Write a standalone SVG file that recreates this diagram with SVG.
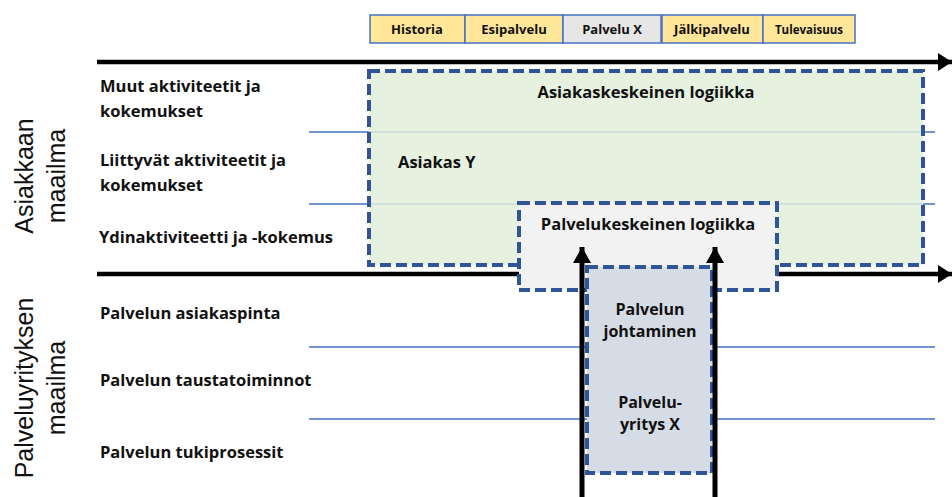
<svg xmlns="http://www.w3.org/2000/svg" width="952" height="497" viewBox="0 0 952 497">
  <defs>
    <marker id="headH" markerUnits="userSpaceOnUse" markerWidth="14" markerHeight="18" refX="14" refY="9" orient="auto">
      <path d="M0,0 L14,9 L0,18 Z" fill="#000"/>
    </marker>
    <marker id="headV" markerUnits="userSpaceOnUse" markerWidth="18" markerHeight="18" refX="16" refY="9" orient="auto">
      <path d="M0,0 L16,9 L0,18 Z" fill="#000"/>
    </marker>
  </defs>
  <style>
    text { font-family: "Open Sans", "Liberation Sans", Arial, sans-serif; fill: #111; }
    .lbl { font-size: 16.5px; font-weight: bold; }
    .inner { font-size: 16px; font-weight: bold; text-anchor: middle; }
    .phase { font-size: 13px; font-weight: bold; text-anchor: middle; }
    .world { font-family: "Liberation Sans", Arial, sans-serif; font-size: 25px; text-anchor: middle; }
    .mid { text-anchor: middle; }
    .phasebox { fill: #FFE699; stroke: #4472C4; stroke-width: 1.5; }
    .lane { stroke: #4472C4; stroke-width: 1.5; }
    .axis { stroke: #000; stroke-width: 4.5; }
    .dash { stroke: #2F5597; stroke-width: 4; stroke-dasharray: 11 5; }
    .flow { stroke: #000; stroke-width: 5; fill: none; }
  </style>

  <rect width="952" height="497" fill="#fff"/>

  <!-- time phases -->
  <g id="phases">
    <g id="historia"><rect class="phasebox" x="370" y="15" width="95" height="28"/><text class="phase" x="417" y="34">Historia</text></g>
    <g id="esipalvelu"><rect class="phasebox" x="465" y="15" width="98" height="28"/><text class="phase" x="514" y="34">Esipalvelu</text></g>
    <g id="palvelu-x"><rect class="phasebox" x="563" y="15" width="98" height="28" style="fill:#E7E6E6"/><text class="phase" x="612" y="34">Palvelu X</text></g>
    <g id="jalkipalvelu"><rect class="phasebox" x="662" y="15" width="101" height="28"/><text class="phase" x="712" y="34">Jälkipalvelu</text></g>
    <g id="tulevaisuus"><rect class="phasebox" x="763" y="15" width="92" height="28"/><text class="phase" x="809" y="34" style="font-size:11.5px">Tulevaisuus</text></g>
  </g>

  <!-- axes and lane separators -->
  <g id="connectors">
    <line class="axis" x1="97" y1="62" x2="952" y2="62" marker-end="url(#headH)"/>
    <line class="axis" x1="97" y1="274" x2="952" y2="274" marker-end="url(#headH)"/>
    <line class="lane" x1="309" y1="132" x2="935" y2="132"/>
    <line class="lane" x1="309" y1="204" x2="935" y2="204"/>
    <line class="lane" x1="309" y1="347" x2="935" y2="347"/>
    <line class="lane" x1="309" y1="419" x2="935" y2="419"/>
  </g>

  <!-- world titles -->
  <g id="asiakkaan-maailma">
    <text class="world" transform="translate(33,176) rotate(-90)">Asiakkaan</text>
    <text class="world" transform="translate(65,176) rotate(-90)">maailma</text>
  </g>
  <g id="palveluyrityksen-maailma">
    <text class="world" transform="translate(33,388) rotate(-90)">Palveluyrityksen</text>
    <text class="world" transform="translate(65,388) rotate(-90)">maailma</text>
  </g>

  <!-- lane labels -->
  <g id="lane-labels">
    <text class="lbl" x="100" y="92">Muut aktiviteetit ja</text>
    <text class="lbl" x="100" y="117">kokemukset</text>
    <text class="lbl" x="100" y="166">Liittyvät aktiviteetit ja</text>
    <text class="lbl" x="100" y="191">kokemukset</text>
    <text class="lbl" x="99" y="243">Ydinaktiviteetti ja -kokemus</text>
    <text class="lbl" x="100" y="319">Palvelun asiakaspinta</text>
    <text class="lbl" x="100" y="386">Palvelun taustatoiminnot</text>
    <text class="lbl" x="100" y="458">Palvelun tukiprosessit</text>
  </g>

  <!-- customer-centric logic -->
  <g id="asiakaskeskeinen">
    <rect class="dash" x="369" y="71" width="554" height="194" fill="#E2EFDA" fill-opacity="0.85"/>
    <text class="lbl mid" x="646" y="98">Asiakaskeskeinen logiikka</text>
    <text class="lbl" x="398" y="168">Asiakas Y</text>
  </g>

  <!-- service-centric logic -->
  <g id="palvelukeskeinen">
    <rect class="dash" x="519" y="203" width="258" height="87" fill="#F2F2F2"/>
    <text class="lbl mid" x="648" y="230">Palvelukeskeinen logiikka</text>
  </g>

  <!-- service company -->
  <g id="palveluyritys">
    <rect class="dash" x="587" y="267" width="125" height="206" fill="#D6DCE5"/>
    <text class="inner" x="650" y="315">Palvelun</text>
    <text class="inner" x="650" y="337">johtaminen</text>
    <text class="inner" x="650" y="408">Palvelu-</text>
    <text class="inner" x="650" y="430">yritys X</text>
  </g>

  <!-- upward flows -->
  <g id="flows">
    <line class="flow" x1="582" y1="497" x2="582" y2="247" marker-end="url(#headV)"/>
    <line class="flow" x1="715" y1="497" x2="715" y2="247" marker-end="url(#headV)"/>
  </g>
</svg>
